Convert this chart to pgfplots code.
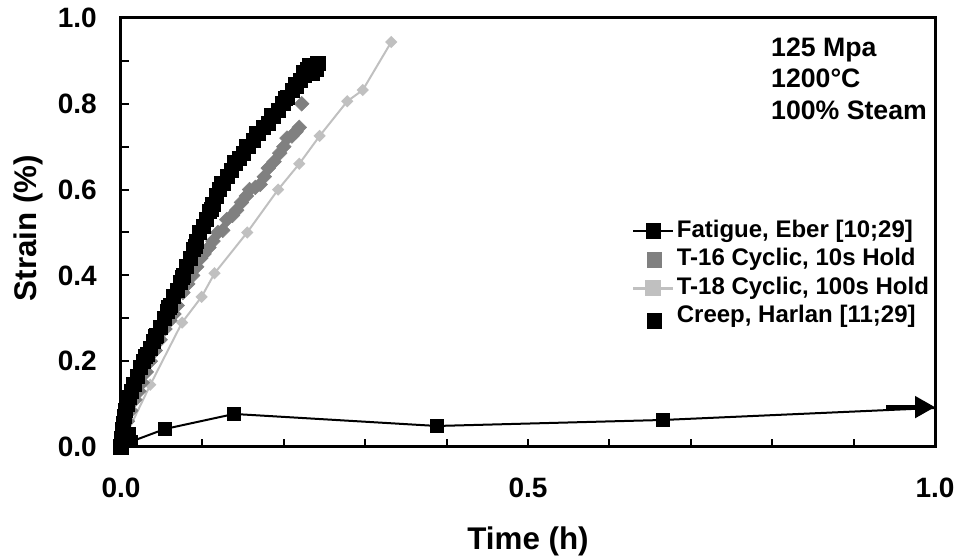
\documentclass[border=0pt]{standalone}
\usepackage{pgfplots}
\pgfplotsset{compat=1.18}
\usetikzlibrary{arrows.meta}
\usepackage{fontspec}
\setmainfont{Liberation Sans}
\definecolor{tsixteen}{HTML}{808080}
\definecolor{teighteen}{HTML}{C0C0C0}
\pgfplotsset{
  linelegend/.style={legend image code/.code={\draw[mark repeat=2,mark phase=2,##1] plot coordinates {(0cm,0cm) (0.53cm,0cm) (1.06cm,0cm)};}},
  marklegend/.style={legend image code/.code={\draw[##1] plot coordinates {(0.56cm,0cm)};}},
  marklegendlow/.style={legend image code/.code={\draw[##1] plot coordinates {(0.56cm,-0.1cm)};}},
}
\begin{document}
\begin{tikzpicture}
\useasboundingbox (-90.75pt,-84.75pt) rectangle (627.75pt,335.25pt);
\begin{axis}[
  at={(0,0)}, anchor=south west,
  scale only axis, width=610.5pt, height=321.75pt,
  xmin=0, xmax=1, ymin=0, ymax=1,
  xtick={0,0.5,1}, minor xtick={0.1,0.2,0.3,0.4,0.6,0.7,0.8,0.9},
  ytick={0,0.2,0.4,0.6,0.8,1}, minor ytick={0.1,0.3,0.5,0.7,0.9},
  tick align=inside, tick pos=left,
  major tick length=6pt, minor tick length=6pt,
  every tick/.style={black, line width=1.5pt},
  axis line style={black, line width=2.25pt},
  /pgf/number format/.cd, fixed, fixed zerofill, precision=1, assume math mode=true,
  /pgfplots/.cd,
  ticklabel style={font=\bfseries\fontsize{21}{21}\selectfont},
  xticklabel style={anchor=center, yshift=-31pt},
  yticklabel style={anchor=east, inner sep=0pt, xshift=-18pt},
  clip=false,
  xlabel={Time (h)}, ylabel={Strain (\%)},
  label style={font=\bfseries\fontsize{23.5}{23.5}\selectfont},
  xlabel style={at={(axis description cs:0.5,-0.219)}, anchor=center},
  ylabel style={at={(axis description cs:-0.114,0.51)}, anchor=center},
  legend style={at={(axis description cs:0.627,0.534)}, anchor=north west,
    draw=none, fill=none, inner sep=0pt,
    font=\bfseries\fontsize{18}{18}\selectfont,
    nodes={inner sep=1.5pt, text height=12.8pt, text depth=3.6pt},
    row sep=2pt},
  legend cell align=left,
]
\addlegendimage{black, line width=1.5pt, mark=square*, mark size=5pt, linelegend}
\addlegendentry{Fatigue, Eber [10;29]}
\addlegendimage{only marks, tsixteen, mark=square*, mark size=5.5pt, marklegend}
\addlegendentry{T-16 Cyclic, 10s Hold}
\addlegendimage{teighteen, line width=2.25pt, mark=square*, mark size=5pt, linelegend}
\addlegendentry{T-18 Cyclic, 100s Hold}
\addlegendimage{only marks, black, mark=square*, mark size=5.5pt, marklegendlow}
\addlegendentry{Creep, Harlan [11;29]}

% T-18 Cyclic, 100s Hold
\addplot[teighteen, line width=1.5pt, mark=square*, mark size=2.5pt,
  mark options={rotate=45}, forget plot] coordinates {
(0.000,0.003) (0.036,0.145) (0.075,0.290) (0.099,0.350) (0.115,0.405)
(0.155,0.500) (0.193,0.600) (0.219,0.660) (0.244,0.725) (0.278,0.806)
(0.297,0.832) (0.332,0.944)};

% T-16 Cyclic, 10s Hold
\addplot[only marks, tsixteen, mark=square*, mark size=3.9pt,
  mark options={rotate=45}, forget plot] coordinates {
(0.000,0.000) (0.004,0.030) (0.008,0.060) (0.012,0.085) (0.017,0.110)
(0.022,0.130) (0.026,0.150) (0.031,0.175) (0.036,0.200) (0.042,0.225)
(0.048,0.250) (0.054,0.275) (0.060,0.295) (0.065,0.310) (0.069,0.330)
(0.076,0.360) (0.082,0.380) (0.088,0.400) (0.093,0.420) (0.098,0.440)
(0.102,0.450) (0.108,0.465) (0.113,0.480) (0.119,0.500) (0.125,0.505)
(0.130,0.530) (0.137,0.540) (0.142,0.552) (0.148,0.570) (0.154,0.585)
(0.158,0.600) (0.165,0.605) (0.171,0.612) (0.176,0.630) (0.181,0.650)
(0.188,0.665) (0.195,0.685) (0.200,0.700) (0.204,0.720) (0.210,0.725)
(0.215,0.735) (0.219,0.745) (0.222,0.800)};

% Fatigue, Eber
\addplot[black, line width=2.5pt, mark=square*, mark size=4.4pt, forget plot] coordinates {
(0.000,0.000) (0.001,0.020) (0.002,0.040) (0.003,0.055) (0.004,0.070)
(0.006,0.085) (0.008,0.100) (0.010,0.115) (0.013,0.130) (0.016,0.145)
(0.020,0.165) (0.024,0.185) (0.028,0.200) (0.030,0.212) (0.032,0.215)
(0.036,0.230) (0.040,0.245) (0.042,0.258) (0.044,0.260) (0.048,0.278)
(0.053,0.300) (0.057,0.315) (0.059,0.326) (0.061,0.330) (0.065,0.350)
(0.069,0.365) (0.073,0.383) (0.075,0.395) (0.077,0.400) (0.081,0.420)
(0.085,0.440) (0.089,0.460) (0.091,0.468) (0.093,0.480) (0.097,0.500)
(0.101,0.515) (0.105,0.530) (0.109,0.550) (0.111,0.554) (0.113,0.565)
(0.117,0.585) (0.121,0.600) (0.124,0.614) (0.126,0.615) (0.131,0.630)
(0.136,0.645) (0.139,0.662) (0.141,0.660) (0.146,0.672) (0.151,0.685)
(0.154,0.700) (0.157,0.700) (0.163,0.715) (0.166,0.730) (0.169,0.730)
(0.175,0.745) (0.181,0.755) (0.185,0.772) (0.187,0.770) (0.193,0.785)
(0.199,0.800) (0.202,0.812) (0.205,0.815) (0.211,0.830) (0.214,0.846)
(0.216,0.840) (0.221,0.855) (0.224,0.872) (0.226,0.865) (0.229,0.880)
(0.232,0.890) (0.235,0.870) (0.237,0.890) (0.240,0.880) (0.242,0.895)};

% Creep, Harlan
\addplot[black, line width=1.5pt, mark=square*, mark size=4.3pt,
  mark indices={1,2,3,4,5,6}, forget plot] coordinates {
(0.010,0.030) (0.013,0.013) (0.054,0.042) (0.139,0.077) (0.388,0.049)
(0.666,0.063) (1.000,0.091)};
\addplot[black, line width=3pt, -{Triangle[length=15pt,width=16pt]}, forget plot]
  coordinates {(0.940,0.093) (1.000,0.093)};

\node[anchor=north west, align=left, inner sep=0pt,
  font=\bfseries\fontsize{20}{23.6}\selectfont]
  at (axis description cs:0.7985,0.955) {125 Mpa\\1200°C\\100\% Steam};
\end{axis}
\end{tikzpicture}
\end{document}
